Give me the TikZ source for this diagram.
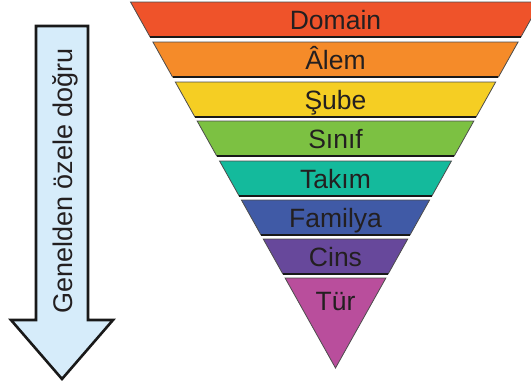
\documentclass[tikz,border=0pt]{standalone}
\usepackage{fontspec}
\setmainfont{Liberation Sans}
\usetikzlibrary{calc}

\definecolor{txt}{HTML}{231F20}
\definecolor{arrowfill}{HTML}{D6ECFA}
\definecolor{cDomain}{HTML}{EF532A}
\definecolor{cAlem}{HTML}{F58B29}
\definecolor{cSube}{HTML}{F5CE23}
\definecolor{cSinif}{HTML}{7CC142}
\definecolor{cTakim}{HTML}{14BA9C}
\definecolor{cFamilya}{HTML}{405AA6}
\definecolor{cCins}{HTML}{67489B}
\definecolor{cTur}{HTML}{B94E9C}

\tikzset{
  band/.style={draw=black!70, line width=0.8pt, line join=miter},
  bandbase/.style={draw=black!90, line width=1.6pt, line cap=butt},
  label/.style={text=txt, font=\fontsize{26.5}{30}\selectfont, inner sep=0pt, anchor=base},
  bigarrow/.style={draw=black!90, fill=arrowfill, line width=2.6pt, line join=miter},
}

% half width of the funnel at height y (apex at y=368, centre x=335.5)
\newcommand{\hwid}[1]{0.5601*(368-#1)}

\begin{document}
\begin{tikzpicture}[x=1pt, y=-1pt]
  \useasboundingbox (0,0) rectangle (531,386);
  \clip (0,0) rectangle (531,386);

  % downward arrow
  \draw[bigarrow] (36,26) coordinate (a1) -- (88,26) coordinate (a2)
        -- (88,320) -- (113,320) -- (62,379) coordinate (tip)
        -- (11,320) -- (36,320) -- cycle;
  \node[text=txt, font=\fontsize{27}{30}\selectfont, inner sep=0pt,
        rotate=90, anchor=base] (dir) at (72,181) {Genelden özele doğru};

  % funnel bands: top/bottom/colour/name/label/baseline
  \foreach \t/\b/\c/\n/\l/\y in {
      2/37/cDomain/domain/Domain/29.5,
      42/77/cAlem/alem/Âlem/69.5,
      82/117/cSube/sube/Şube/109.5,
      121/156/cSinif/sinif/Sınıf/148.5,
      161/196/cTakim/takim/Takım/188.5,
      200/235/cFamilya/familya/Familya/227.5,
      239/274/cCins/cins/Cins/266.5} {
    \fill[\c] ({335.5-\hwid{\t}},\t) -- ({335.5+\hwid{\t}},\t)
          -- ({335.5+\hwid{\b}},\b) -- ({335.5-\hwid{\b}},\b) -- cycle;
    \draw[band] ({335.5-\hwid{\t}},\t) -- ({335.5+\hwid{\t}},\t)
          -- ({335.5+\hwid{\b}},\b) -- ({335.5-\hwid{\b}},\b) -- cycle;
    \draw[bandbase] ({335.5-\hwid{\b}},\b) -- ({335.5+\hwid{\b}},\b);
    \node[label] (\n) at (335.5,\y) {\l};
  }

  % bottom triangle
  \fill[cTur] ({335.5-\hwid{278}},278) -- ({335.5+\hwid{278}},278)
        -- (335.5,368) -- cycle;
  \draw[band] ({335.5-\hwid{278}},278) -- ({335.5+\hwid{278}},278)
        -- (335.5,368) coordinate (apex) -- cycle;
  \node[label] (tur) at (335.5,310) {Tür};
\end{tikzpicture}
\end{document}
